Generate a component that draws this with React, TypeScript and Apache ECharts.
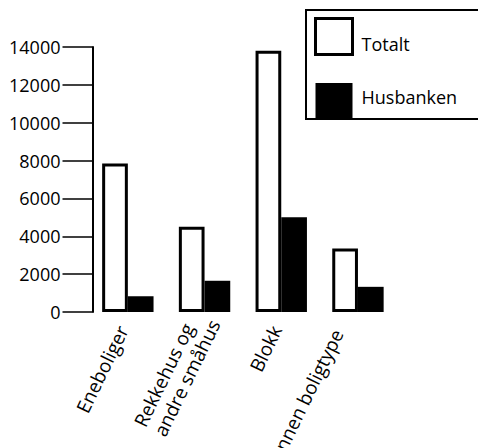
import React, { useEffect, useRef } from "react";
import * as echarts from "echarts";

const categories = ["Eneboliger", "Rekkehus og\nandre småhus", "Blokk", "Annen boligtype"];
const totalt = [7850, 4500, 13800, 3350];
const husbanken = [830, 1650, 5000, 1330];
const yTicks = [0, 2000, 4000, 6000, 8000, 10000, 12000, 14000];

const FONT = "Open Sans";

export default function App() {
  const ref = useRef<HTMLDivElement>(null);
  useEffect(() => {
    document.body.style.margin = "0";
    const chart = echarts.init(ref.current!, null, { renderer: "svg" });
    const labelFont = { fontFamily: FONT, fontSize: 19, lineHeight: 22, color: "#000" };
    chart.setOption({
      animation: false,
      backgroundColor: "#ffffff",
      grid: {
        left: 89.5,
        width: 306.8,
        top: 47,
        bottom: 136,
        containLabel: false,
        outerBoundsMode: "none",
      },
      legend: {
        orient: "vertical",
        left: 306,
        top: 10,
        padding: [7, 60, 0, 8],
        itemWidth: 37,
        itemHeight: 36,
        itemGap: 27,
        icon: "rect",
        borderColor: "#000",
        borderWidth: 2,
        borderRadius: 0,
        formatter: (name: string) => (name === "Totalt" ? `{a|${name}}` : `{b|${name}}`),
        textStyle: {
          fontFamily: FONT,
          fontSize: 18,
          color: "#000",
          padding: [0, 0, 0, 4],
          rich: {
            a: { fontFamily: FONT, fontSize: 18, color: "#000", padding: [14, 0, 0, 0] },
            b: { fontFamily: FONT, fontSize: 18, color: "#000", padding: [0, 0, 8, 0] },
          },
        },
        data: [
          { name: "Totalt", icon: "rect", itemStyle: { color: "#fff", borderColor: "#000", borderWidth: 3 } },
          { name: "Husbanken", icon: "rect", itemStyle: { color: "#000", borderWidth: 0 } },
        ],
      },
      xAxis: {
        type: "category",
        data: categories,
        axisLine: { show: false },
        axisTick: { show: false },
        axisLabel: {
          rotate: 64,
          margin: 15,
          interval: 0,
          padding: [0, 2, 9, 0],
          ...labelFont,
          formatter: (v: string) => {
            if (v.includes("\n")) return v.split("\n").map((s) => `{l|${s}}`).join("\n");
            if (v === "Annen boligtype") return `{n|${v}}`;
            return v;
          },
          rich: {
            l: { ...labelFont, width: 115, align: "left" },
            n: { ...labelFont, padding: [0, 10, 24, 0] },
          },
        },
      },
      yAxis: {
        type: "value",
        min: 0,
        max: 14000,
        interval: 2000,
        offset: -3,
        splitLine: { show: false },
        axisLine: { show: true, lineStyle: { color: "#000", width: 2 } },
        axisTick: { show: true, length: 30, lineStyle: { color: "#000", width: 1.5 } },
        axisLabel: {
          margin: 32,
          fontFamily: FONT,
          fontSize: 18,
          color: "#000",
          formatter: (v: number) => (yTicks.includes(v) ? String(v) : ""),
        },
      },
      series: [
        {
          name: "Totalt",
          type: "bar",
          data: totalt,
          barGap: "0%",
          barCategoryGap: "33%",
          itemStyle: { color: "#fff", borderColor: "#000", borderWidth: 3 },
        },
        {
          name: "Husbanken",
          type: "bar",
          data: husbanken,
          barGap: "0%",
          barCategoryGap: "33%",
          itemStyle: { color: "#000", borderWidth: 0 },
        },
      ],
    });
    return () => chart.dispose();
  }, []);
  return (
    <div
      ref={ref}
      style={{ position: "fixed", left: 0, top: 0, width: 478, height: 448 }}
    />
  );
}
